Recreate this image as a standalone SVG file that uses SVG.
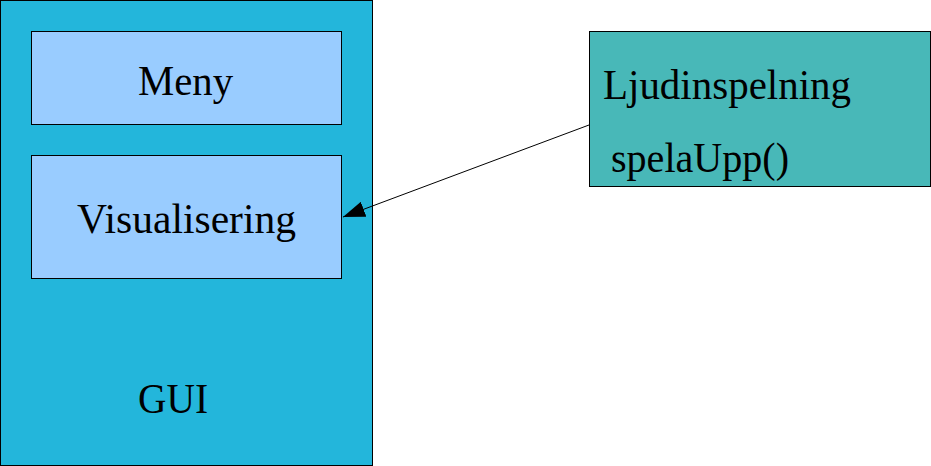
<svg xmlns="http://www.w3.org/2000/svg" width="931" height="466" viewBox="0 0 931 466">
<style>
.b{stroke:#000;stroke-width:1}
</style>
<defs>
<marker id="ah" markerWidth="24" markerHeight="16" refX="22" refY="8" orient="auto" markerUnits="userSpaceOnUse">
<path d="M0,0 L22,8 L0,16 Z" fill="#000"/>
</marker>
</defs>
<rect width="931" height="466" fill="#fff"/>
<g font-family="Liberation Serif, Times New Roman, serif" font-size="43" fill="#000">
<g id="gui">
<rect class="b" x="0.5" y="0.5" width="372" height="465" fill="#23b6db"/>
<text x="138" y="413" textLength="70" lengthAdjust="spacingAndGlyphs">GUI</text>
</g>
<g id="meny">
<rect class="b" x="31.5" y="31.5" width="310" height="93" fill="#99ccff"/>
<text x="138" y="95" textLength="95" lengthAdjust="spacingAndGlyphs">Meny</text>
</g>
<g id="visualisering">
<rect class="b" x="31.5" y="155.5" width="310" height="123" fill="#99ccff"/>
<text x="77" y="233" textLength="219" lengthAdjust="spacingAndGlyphs">Visualisering</text>
</g>
<g id="ljudinspelning">
<rect class="b" x="589.5" y="31.5" width="341" height="155" fill="#48b8b8"/>
<text x="603" y="99" textLength="248" lengthAdjust="spacingAndGlyphs">Ljudinspelning</text>
<text x="611" y="172" textLength="178" lengthAdjust="spacingAndGlyphs">spelaUpp()</text>
</g>
</g>
<g id="connectors">
<line x1="589" y1="125" x2="343" y2="217" stroke="#000" stroke-width="1" marker-end="url(#ah)"/>
</g>
</svg>
